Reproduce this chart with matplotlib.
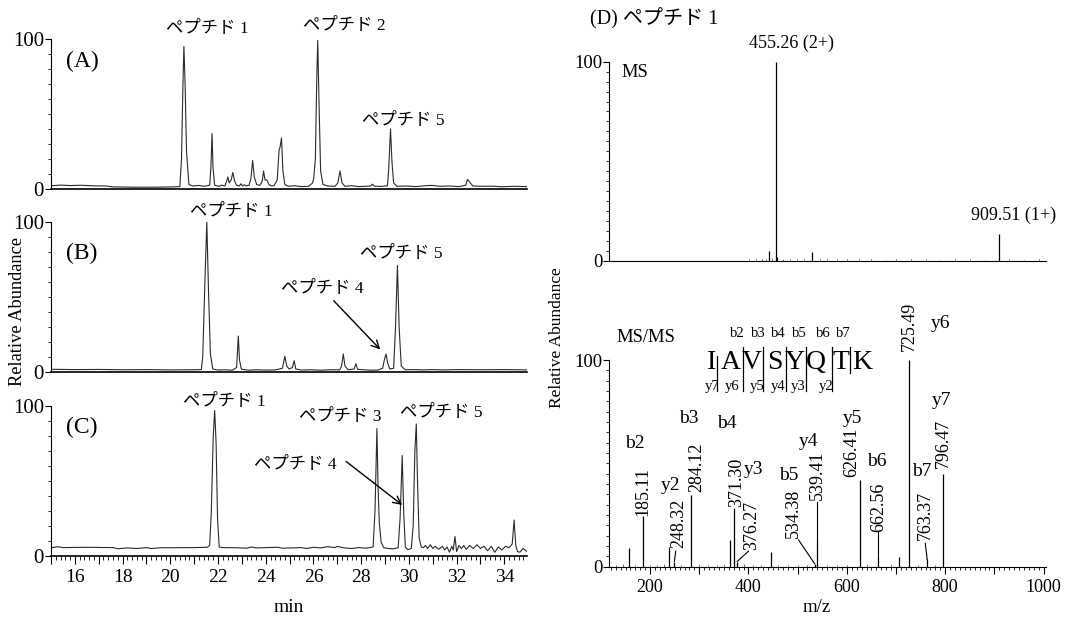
import numpy as np
import matplotlib
matplotlib.use('Agg')
import matplotlib.pyplot as plt
from matplotlib.ticker import MultipleLocator, FixedLocator, FuncFormatter

plt.rcParams['font.family'] = ['Liberation Serif', 'DejaVu Serif']
JP = ['Liberation Serif', 'Noto Sans CJK JP']

# --- chromatogram traces (time in min, relative abundance) ---
a_t = [15.00, 15.40, 15.80, 16.30, 16.80, 17.30, 17.60, 18.50, 19.40, 20.10, 20.40,
       20.47, 20.53, 20.57, 20.62, 20.68, 20.78, 20.95, 21.20, 21.40, 21.65, 21.70,
       21.75, 21.79, 21.86, 22.05, 22.15, 22.28, 22.36, 22.41, 22.47, 22.55, 22.62,
       22.70, 22.78, 22.90, 22.96, 23.03, 23.10, 23.17, 23.30, 23.38, 23.45, 23.52,
       23.62, 23.75, 23.85, 23.91, 23.97, 24.05, 24.13, 24.25, 24.35, 24.48, 24.56,
       24.60, 24.66, 24.72, 24.80, 24.95, 25.20, 25.50, 25.80, 25.96, 26.01, 26.08,
       26.14, 26.18, 26.23, 26.30, 26.40, 26.60, 26.90, 27.02, 27.11, 27.20, 27.32,
       27.60, 27.90, 28.20, 28.40, 28.47, 28.55, 28.80, 29.10, 29.15, 29.23, 29.29,
       29.36, 29.50, 29.90, 30.30, 30.70, 30.97, 31.30, 31.70, 32.10, 32.38, 32.46,
       32.55, 32.68, 33.10, 33.50, 33.90, 34.40, 34.95]
a_v = [2.2, 2.6, 2.3, 2.5, 2.1, 2.0, 1.4, 1.2, 1.2, 1.4, 1.6,
       20, 70, 95, 70, 25, 3, 2.0, 2.4, 1.8, 2.5, 14,
       37, 14, 2.5, 1.8, 2.6, 2.0, 5, 8, 4, 6, 11,
       5, 2.5, 2.0, 3.5, 2.0, 2.8, 2.2, 2.4, 7, 19, 8,
       3, 2.4, 5, 12, 6, 6, 3, 2.0, 2.3, 6, 26,
       28, 34, 12, 3, 1.8, 2.2, 1.6, 1.8, 4, 7, 20,
       75, 99, 60, 12, 3, 2.0, 1.8, 4, 12, 4, 1.8,
       2.2, 1.6, 1.8, 2.0, 3.2, 1.9, 1.7, 2.1, 12, 40, 18,
       4, 1.8, 2.0, 1.6, 2.2, 2.4, 1.8, 2.0, 1.6, 2.5, 6.5,
       4.5, 2.0, 1.8, 1.9, 1.5, 1.8, 1.6]

b_t = [15.00, 16.00, 17.00, 18.00, 19.00, 20.00, 21.00, 21.30, 21.36, 21.45, 21.53,
       21.60, 21.68, 21.78, 22.00, 22.30, 22.60, 22.78, 22.85, 22.90, 22.98, 23.30,
       23.60, 24.00, 24.40, 24.70, 24.80, 24.88, 24.98, 25.12, 25.19, 25.26, 25.50,
       25.90, 26.30, 26.70, 27.10, 27.18, 27.25, 27.32, 27.45, 27.70, 27.78, 27.85,
       28.10, 28.40, 28.70, 28.90, 28.97, 29.04, 29.11, 29.20, 29.36, 29.44, 29.52,
       29.59, 29.68, 29.85, 30.20, 30.60, 31.00, 31.50, 32.00, 33.00, 34.00, 34.95]
b_v = [1.8, 1.6, 1.7, 1.5, 1.6, 1.4, 1.5, 1.6, 10, 60, 100,
       55, 12, 2, 1.3, 1.5, 1.2, 3, 24, 8, 1.8, 1.2,
       1.5, 1.3, 1.4, 2.5, 10.5, 4, 2, 3, 7.5, 2, 1.3,
       1.5, 1.2, 1.5, 1.4, 4, 12, 4, 1.5, 2, 5.5, 1.8,
       1.5, 1.2, 1.3, 2.5, 8, 12, 6, 2, 2.5, 30, 71,
       30, 4, 1.5, 1.6, 1.4, 1.6, 1.4, 1.6, 1.5, 1.6, 1.4]

c_t = [15.00, 15.30, 15.50, 16.50, 17.60, 17.80, 18.20, 18.60, 19.00, 19.20, 19.60,
       21.00, 21.55, 21.65, 21.72, 21.80, 21.86, 21.92, 21.98, 22.05, 22.20, 22.80,
       23.20, 23.40, 23.60, 24.50, 24.70, 25.50, 25.70, 26.00, 26.30, 26.60, 26.90,
       27.00, 27.30, 27.60, 27.90, 28.20, 28.50, 28.58, 28.66, 28.71, 28.76, 28.84,
       28.95, 29.15, 29.35, 29.55, 29.63, 29.72, 29.78, 29.85, 29.95, 30.10, 30.18,
       30.25, 30.31, 30.36, 30.43, 30.52, 30.60, 30.70, 30.78, 30.90, 31.00, 31.10,
       31.25, 31.40, 31.50, 31.60, 31.70, 31.80, 31.86, 31.93, 32.00, 32.10, 32.20,
       32.30, 32.40, 32.55, 32.70, 32.85, 33.00, 33.15, 33.30, 33.45, 33.60, 33.75,
       33.90, 34.05, 34.20, 34.33, 34.41, 34.48, 34.55, 34.65, 34.78, 34.95]
c_v = [5.5, 6.2, 5.6, 5.8, 5.6, 4.8, 5.4, 5.0, 5.6, 5.0, 5.5,
       5.6, 5.8, 7, 30, 80, 97, 75, 25, 6, 5.6, 5.5,
       5.2, 6.0, 5.4, 5.8, 5.2, 5.6, 5.0, 5.8, 5.4, 6.2, 5.6,
       6.4, 5.4, 5.0, 5.6, 5.2, 6, 30, 85, 45, 22, 9,
       5.5, 5.0, 4.8, 5.5, 25, 67, 30, 6, 4.2, 5, 20,
       70, 88, 50, 12, 6, 5.5, 7, 5, 7.5, 5, 6.5,
       4.5, 6.5, 4, 6, 2.5, 6.5, 4, 13, 3, 7, 5,
       7, 4.5, 7, 5, 7.5, 5, 6.5, 3.5, 6.5, 2.5, 6,
       4, 6.5, 5.5, 8, 24, 7, 3, 2.5, 5, 3]

# peak labels: (text, time, abundance)
a_labels = [('ペプチド 1', 21.54, 107), ('ペプチド 2', 27.31, 109), ('ペプチド 5', 29.77, 46)]
b_labels = [('ペプチド 1', 22.54, 107), ('ペプチド 5', 29.69, 79), ('ペプチド 4', 26.37, 56)]
c_labels = [('ペプチド 1', 22.25, 103), ('ペプチド 3', 27.14, 93), ('ペプチド 5', 31.36, 96),
            ('ペプチド 4', 25.22, 61)]
b_arrow = [(26.85, 47.5), (28.8, 15)]
c_arrow = [(27.37, 63), (29.72, 34)]

# --- MS spectrum ---
ms_mz = [441.8, 455.26, 459.0, 530.0, 909.51]
ms_int = [5.0, 100, 2.0, 4.4, 13.4]
ms_noise_mz = [402, 415, 428, 436, 448, 470, 485, 498, 512, 545, 560, 580, 600, 625,
               650, 680, 700, 730, 760, 790, 820, 850, 880, 930, 960, 990]
ms_noise_int = [0.8, 1.0, 0.7, 1.1, 1.2, 0.9, 0.8, 1.0, 0.7, 0.9, 0.8, 1.0, 0.7, 0.8,
                0.9, 0.6, 0.8, 0.7, 0.9, 0.6, 0.7, 0.8, 0.6, 0.7, 0.6, 0.7]

# --- MS/MS spectrum ---
msms_mz = [157, 185.11, 239, 248.32, 284.12, 362, 371.30, 376.27, 446, 534.38, 539.41,
           626.41, 662.56, 706, 725.49, 763.37, 796.47]
msms_int = [9, 24.5, 9.5, 2.5, 34.7, 13, 28.4, 2.5, 7, 1.5, 13, 42, 4, 4.5, 100, 3.5, 45]
msms_noise_mz = [130, 145, 170, 200, 215, 228, 262, 300, 318, 335, 350, 390, 410, 425,
                 460, 480, 500, 520, 560, 580, 600, 640, 690, 745, 780]
msms_noise_int = [0.8, 1.2, 0.9, 1.0, 0.7, 1.3, 0.9, 1.1, 0.8, 1.0, 1.5, 1.2, 0.9, 1.0,
                  0.8, 1.0, 0.7, 0.9, 1.0, 0.8, 0.9, 1.1, 1.2, 0.8, 0.7]
# m/z labels: (text, x, bottom of label)
mz_labels = [('185.11', 185.1, 24.5), ('248.32', 257.6, 8.9), ('284.12', 295.1, 36.3),
             ('371.30', 376.4, 29.0), ('376.27', 407.0, 8.0), ('534.38', 491.8, 13.7),
             ('539.41', 539.1, 32.3), ('626.41', 610.7, 43.5), ('662.56', 664.4, 17.0),
             ('725.49', 726.3, 104.5), ('763.37', 759.5, 12.9), ('796.47', 796.9, 47.6)]
ion_labels = [('b2', 169.4, 59.7), ('y2', 240.7, 39.5), ('b3', 278.1, 71.8), ('b4', 356.0, 69.4),
              ('y3', 410.2, 46.8), ('b5', 482.0, 44.0), ('y4', 522.1, 60.5), ('y5', 610.7, 71.8),
              ('b6', 661.1, 50.8), ('y6', 790.0, 117.7), ('y7', 793.4, 80.6), ('b7', 752.8, 46.0)]
leaders = [(252, 7.5, 249.3, 2.5), (400, 7.5, 377, 2.5), (502, 12.9, 534.4, 1.5),
           (539.4, 31.5, 539.4, 13), (662.6, 17, 662.6, 4), (759.5, 11.3, 763.4, 3.5)]

# peptide sequence IAVSYQTK
seq = ['I', 'A', 'V', 'S', 'Y', 'Q', 'T', 'K']
seq_x = [325.5, 364.8, 406.9, 454.3, 493.0, 537.7, 588.0, 630.7]
sep_x = [335.7, 388.6, 430.5, 476.7, 516.3, 569.6, 606.9]
sep_top = [102, 106.3, 106.3, 106.3, 106.3, 106.3, 106.3]
sep_bot = [85, 85, 85, 85, 85, 85, 93.7]
b_ions = ['b2', 'b3', 'b4', 'b5', 'b6', 'b7']
b_ion_x = [376.4, 420.3, 461.0, 503.7, 552.6, 593.3]
y_ions = ['y7', 'y6', 'y5', 'y4', 'y3', 'y2']
y_ion_x = [325.5, 366.2, 417.0, 461.0, 501.7, 558.0]

fig = plt.figure(figsize=(10.7, 6.18), dpi=100)
W, H = 1070.0, 618.0


def chrom(bottom_px, t, v, show_x):
    ax = fig.add_axes([51 / W, (H - bottom_px) / H, 476 / W, 150 / H])
    ax.plot(t, v, color='#2a2a2a', lw=0.8)
    ax.set_xlim(15, 34.95)
    ax.set_ylim(0, 100)
    ax.spines['top'].set_visible(False)
    ax.spines['right'].set_visible(False)
    ax.spines['left'].set_linewidth(0.8)
    ax.spines['bottom'].set_linewidth(1.2)
    ax.set_yticks([0, 100])
    ax.yaxis.set_minor_locator(MultipleLocator(10))
    ax.tick_params(axis='y', which='major', length=4, labelsize=15, pad=1)
    ax.tick_params(axis='y', which='minor', length=2.5)
    if show_x:
        ax.xaxis.set_major_locator(FixedLocator(range(15, 36)))
        ax.xaxis.set_major_formatter(FuncFormatter(lambda x, p: '%d' % x if int(round(x)) % 2 == 0 else ''))
        ax.xaxis.set_minor_locator(MultipleLocator(0.2))
        ax.tick_params(axis='x', which='major', length=6, labelsize=14)
        ax.tick_params(axis='x', which='minor', length=3)
    else:
        ax.set_xticks([])
    return ax


ax_a = chrom(189, a_t, a_v, False)
ax_b = chrom(372, b_t, b_v, False)
ax_c = chrom(556, c_t, c_v, True)

for ax, letter, yy in [(ax_a, '(A)', 85), (ax_b, '(B)', 79), (ax_c, '(C)', 86)]:
    ax.text(16.3, yy, letter, fontsize=17, ha='center', va='center')
for ax, labs in [(ax_a, a_labels), (ax_b, b_labels), (ax_c, c_labels)]:
    for s, x, y in labs:
        ax.text(x, y, s, family=JP, fontsize=12.5, ha='center', va='center')
for ax, arr in [(ax_b, b_arrow), (ax_c, c_arrow)]:
    ax.annotate('', xy=arr[1], xytext=arr[0],
                arrowprops=dict(arrowstyle='->', color='black', lw=1.0,
                                shrinkA=0, shrinkB=0, mutation_scale=14))

fig.text(18 / W, 1 - 312 / H, 'Relative Abundance', rotation=90, ha='center', va='center', fontsize=13.2)
fig.text(289 / W, 1 - 607 / H, 'min', ha='center', va='center', fontsize=14)

# MS panel
ax_ms = fig.add_axes([609.3 / W, (H - 260.7) / H, 436.7 / W, 199 / H])
ax_ms.vlines(ms_noise_mz, 0, ms_noise_int, color='#555555', lw=0.6)
ax_ms.vlines(ms_mz, 0, ms_int, color='black', lw=0.9)
ax_ms.set_xlim(117, 1005)
ax_ms.set_ylim(0, 100)
ax_ms.spines['top'].set_visible(False)
ax_ms.spines['right'].set_visible(False)
ax_ms.spines['left'].set_linewidth(0.8)
ax_ms.spines['bottom'].set_linewidth(0.8)
ax_ms.set_xticks([])
ax_ms.set_yticks([0, 100])
ax_ms.yaxis.set_minor_locator(MultipleLocator(5))
ax_ms.tick_params(axis='y', which='major', length=4, labelsize=13.5, pad=1)
ax_ms.tick_params(axis='y', which='minor', length=2.5)
ax_ms.text(142, 94.6, 'MS', fontsize=13.3, ha='left', va='center')
ax_ms.text(488, 109, '455.26 (2+)', fontsize=13, ha='center', va='center')
ax_ms.text(938.5, 23, '909.51 (1+)', fontsize=13, ha='center', va='center')
fig.text(590 / W, 1 - 19 / H, '(D) ペプチド 1', family=JP, fontsize=14.5, ha='left', va='center')

# MS/MS panel
ax_mm = fig.add_axes([609.3 / W, (H - 566.7) / H, 436.7 / W, 206.7 / H])
ax_mm.vlines(msms_noise_mz, 0, msms_noise_int, color='#555555', lw=0.6)
ax_mm.vlines(msms_mz, 0, msms_int, color='black', lw=0.9)
ax_mm.set_xlim(117, 1005)
ax_mm.set_ylim(0, 100)
ax_mm.spines['top'].set_visible(False)
ax_mm.spines['right'].set_visible(False)
ax_mm.spines['left'].set_linewidth(0.8)
ax_mm.spines['bottom'].set_linewidth(0.8)
ax_mm.set_yticks([0, 100])
ax_mm.yaxis.set_minor_locator(MultipleLocator(5))
ax_mm.tick_params(axis='y', which='major', length=4, labelsize=13.5, pad=1)
ax_mm.tick_params(axis='y', which='minor', length=2.5)
ax_mm.xaxis.set_major_locator(FixedLocator(range(200, 1001, 100)))
ax_mm.xaxis.set_major_formatter(FuncFormatter(lambda x, p: '%d' % x if int(round(x)) % 200 == 0 else ''))
ax_mm.xaxis.set_minor_locator(MultipleLocator(10))
ax_mm.tick_params(axis='x', which='major', length=5, labelsize=13)
ax_mm.tick_params(axis='x', which='minor', length=2.5)

for x1, y1, x2, y2 in leaders:
    ax_mm.plot([x1, x2], [y1, y2], color='black', lw=0.8, clip_on=False)
for s, x, y in mz_labels:
    ax_mm.text(x, y, s, rotation=90, fontsize=13, ha='center', va='bottom', clip_on=False)
for s, x, y in ion_labels:
    ax_mm.text(x, y, s, fontsize=14, ha='center', va='center', clip_on=False)

ax_mm.text(131, 111, 'MS/MS', fontsize=13.4, ha='left', va='center')
for s, x in zip(seq, seq_x):
    ax_mm.text(x, 98.8, s, fontsize=20, ha='center', va='center')
for x, t0, b0 in zip(sep_x, sep_top, sep_bot):
    ax_mm.plot([x, x], [b0, t0], color='black', lw=0.9, clip_on=False)
for s, x in zip(b_ions, b_ion_x):
    ax_mm.text(x, 113, s, fontsize=10.5, ha='center', va='center')
for s, x in zip(y_ions, y_ion_x):
    ax_mm.text(x, 87, s, fontsize=10.5, ha='center', va='center')

fig.text(557 / W, 1 - 338 / H, 'Relative Abundance', rotation=90, ha='center', va='center', fontsize=12.5)
fig.text(817 / W, 1 - 607 / H, 'm/z', ha='center', va='center', fontsize=13.5)

fig.savefig('out.png', dpi=100)
